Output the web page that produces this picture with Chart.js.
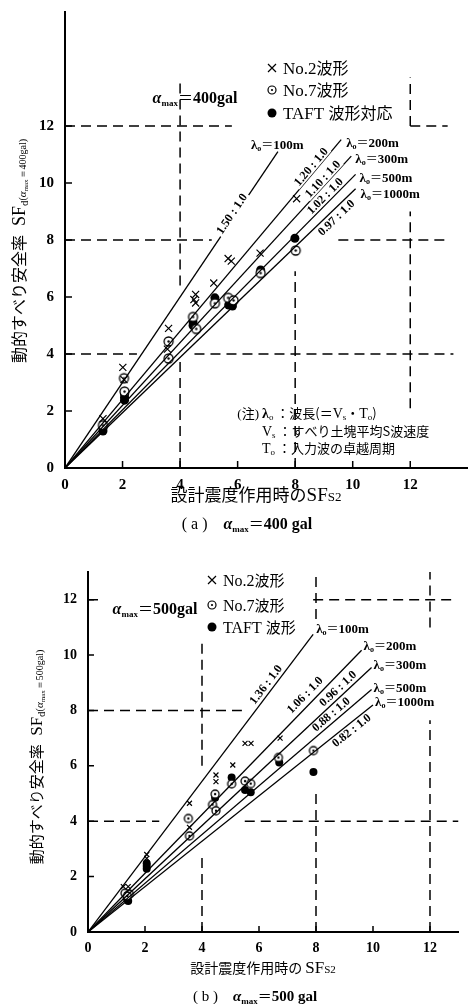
<!DOCTYPE html>
<html>
<head>
<meta charset="utf-8">
<script src="https://cdn.jsdelivr.net/npm/chart.js@4.4.1/dist/chart.umd.min.js"></script>
<style>
  body { margin: 0; background: #fff; width: 474px; height: 1004px; overflow: hidden; position: relative; }
  canvas { position: absolute; left: 0; }
  #chartA { top: 0; }
  #chartB { top: 545px; }
</style>
</head>
<body>
<canvas id="chartA" width="474" height="545"></canvas>
<canvas id="chartB" width="474" height="459"></canvas>
<script>
const SERIF = '"Liberation Serif", "DejaVu Serif", serif';
const JP = '"Noto Sans CJK JP", "Noto Sans CJK SC", sans-serif';

// shared
const tickValues = [0, 2, 4, 6, 8, 10, 12];
const wavelengths = ['100m', '200m', '300m', '500m', '1000m'];

// (a) alpha max = 400 gal
const ratioA = [1.50, 1.20, 1.10, 1.02, 0.97];
const lineEndA = [7.4, 9.6, 9.95, 10.1, 10.1];
const ratioLabelXA = [5.9, 8.7, 9.1, 9.2, 9.25];
const no2A = [[1.32, 1.73], [2.01, 3.53], [2.05, 3.1], [3.6, 4.9], [3.56, 4.17], [4.54, 6.09], [4.48, 5.91],
  [4.54, 5.79], [5.17, 6.49], [5.67, 7.35], [5.78, 7.26], [6.78, 7.54], [8.05, 9.45]];
const no7A = [[1.32, 1.5], [2.05, 3.15], [2.07, 2.68], [3.6, 4.44], [3.6, 3.84], [4.45, 5.3], [4.56, 4.88],
  [5.21, 5.78], [5.67, 5.97], [5.86, 5.88], [6.8, 6.84], [8.02, 7.63]];
const taftA = [[1.32, 1.4], [1.32, 1.3], [2.07, 2.58], [2.07, 2.47], [2.07, 2.38], [4.45, 5.12], [4.45, 5.0],
  [5.21, 5.97], [5.69, 5.72], [5.82, 5.68], [6.8, 6.95], [7.99, 8.06]];
// dashed reference lines [x1, y1, x2, y2]
const guideA = [[0, 12, 5.8, 12], [12, 12, 13.3, 12], [0, 8, 5.1, 8], [9.5, 8, 13.3, 8],
  [0, 4, 2.5, 4], [4.5, 4, 13.5, 4], [4, 0, 4, 3.8], [4, 6.4, 4, 13.6], [8, 0, 8, 6.9],
  [12, 2.1, 12, 9.0], [12, 12, 12, 13.7]];

// (b) alpha max = 500 gal
const ratioB = [1.36, 1.06, 0.96, 0.88, 0.82];
const lineEndB = [7.9, 9.6, 9.95, 9.95, 10.0];
const ratioLabelXB = [6.45, 7.85, 8.95, 8.7, 9.1];
const no2B = [[1.24, 1.64], [1.41, 1.64], [2.06, 2.8], [2.06, 2.66], [3.56, 4.65], [3.56, 3.78], [4.49, 5.67],
  [4.49, 5.43], [5.08, 6.03], [5.51, 6.81], [5.72, 6.81], [6.74, 7.0]];
const no7B = [[1.3, 1.4], [1.45, 1.37], [1.38, 1.3], [3.52, 4.1], [3.56, 3.47], [4.46, 4.98], [4.37, 4.6],
  [4.49, 4.38], [5.04, 5.35], [5.51, 5.45], [5.71, 5.36], [6.68, 6.3], [7.91, 6.55]];
const taftB = [[1.36, 1.22], [1.41, 1.12], [2.06, 2.48], [2.06, 2.38], [2.06, 2.28], [4.46, 4.85], [5.04, 5.58],
  [5.51, 5.13], [5.71, 5.05], [6.71, 6.12], [7.91, 5.78]];
const guideB = [[0, 12, 0.5, 12], [7.9, 12, 12.9, 12], [0, 8, 5.4, 8], [0, 4, 2.5, 4], [5.5, 4, 13, 4],
  [4, 0, 4, 2.8], [4, 6.0, 4, 10.5], [8, 0, 8, 5.0], [8, 11.3, 8, 13.1], [12, 0, 12, 7.65], [12, 11.0, 12, 13.1]];

const toXY = arr => arr.map(p => ({ x: p[0], y: p[1] }));

// circle with a dot in the middle (the ⊙ marker)
function dotCircle(r) {
  const c = document.createElement('canvas');
  const s = Math.ceil(2 * r + 4);
  c.width = c.height = s;
  const g = c.getContext('2d');
  g.fillStyle = '#fff';
  g.strokeStyle = '#000';
  g.lineWidth = 1.3;
  g.beginPath(); g.arc(s / 2, s / 2, r, 0, Math.PI * 2); g.fill(); g.stroke();
  g.fillStyle = '#000';
  g.beginPath(); g.arc(s / 2, s / 2, 1.2, 0, Math.PI * 2); g.fill();
  return c;
}

// draw a run of text pieces [text, font, dy]
function rich(ctx, parts, x, y, align) {
  let w = 0;
  parts.forEach(p => { ctx.font = p[1]; w += ctx.measureText(p[0]).width; });
  let cx = align === 'center' ? x - w / 2 : (align === 'right' ? x - w : x);
  ctx.textAlign = 'left';
  ctx.textBaseline = 'alphabetic';
  parts.forEach(p => {
    ctx.font = p[1];
    ctx.fillText(p[0], cx, y + (p[2] || 0));
    cx += ctx.measureText(p[0]).width;
  });
  return w;
}

function marker(ctx, type, x, y, r) {
  ctx.save();
  ctx.strokeStyle = '#000';
  ctx.fillStyle = '#000';
  ctx.lineWidth = 1.2;
  if (type === 'cross') {
    ctx.beginPath();
    ctx.moveTo(x - r, y - r); ctx.lineTo(x + r, y + r);
    ctx.moveTo(x + r, y - r); ctx.lineTo(x - r, y + r);
    ctx.stroke();
  } else if (type === 'circle') {
    ctx.beginPath(); ctx.arc(x, y, r, 0, Math.PI * 2); ctx.stroke();
    ctx.beginPath(); ctx.arc(x, y, 1.1, 0, Math.PI * 2); ctx.fill();
  } else {
    ctx.beginPath(); ctx.arc(x, y, r + 0.5, 0, Math.PI * 2); ctx.fill();
  }
  ctx.restore();
}

const annotPlugin = {
  id: 'annot',
  afterDatasetsDraw(chart, args, o) {
    const ctx = chart.ctx;
    const xs = chart.scales.x, ys = chart.scales.y;
    ctx.save();
    ctx.fillStyle = '#000';
    ctx.strokeStyle = '#000';

    // inward tick marks
    ctx.lineWidth = 1.5;
    tickValues.slice(1).forEach(v => {
      const px = xs.getPixelForValue(v), py = ys.getPixelForValue(v);
      ctx.beginPath();
      ctx.moveTo(px, ys.bottom); ctx.lineTo(px, ys.bottom - o.tickLen);
      ctx.moveTo(xs.left, py); ctx.lineTo(xs.left + o.tickLen, py);
      ctx.stroke();
    });

    // ratio labels along the lines
    o.ratios.forEach((r, i) => {
      const x0 = xs.getPixelForValue(0), y0 = ys.getPixelForValue(0);
      const x1 = xs.getPixelForValue(o.ends[i]), y1 = ys.getPixelForValue(r * o.ends[i]);
      const ang = Math.atan2(y1 - y0, x1 - x0);
      const lx = o.labelX[i];
      const cx = xs.getPixelForValue(lx), cy = ys.getPixelForValue(r * lx);
      const off = o.labelOff[i];
      const txt = r.toFixed(2) + ' : 1.0';
      ctx.save();
      ctx.translate(cx + off * Math.sin(ang), cy - off * Math.cos(ang));
      ctx.rotate(ang);
      ctx.font = 'bold ' + o.ratioSize + 'px ' + SERIF;
      const w = ctx.measureText(txt).width;
      ctx.fillStyle = '#fff';
      ctx.fillRect(-w / 2 - 2, -o.ratioSize / 2 + 1, w + 4, o.ratioSize - 2);
      ctx.fillStyle = '#000';
      ctx.textAlign = 'center';
      ctx.textBaseline = 'middle';
      ctx.fillText(txt, 0, 0);
      ctx.restore();

      // wavelength label at line end
      const wo = o.waveOff[i];
      rich(ctx, [
        ['λ', 'bold 13px ' + SERIF],
        ['o', 'bold 8px ' + SERIF, 2],
        ['＝', '12px ' + JP],
        [wavelengths[i], 'bold 13px ' + SERIF]
      ], x1 + wo[0], y1 + wo[1] + 4, 'left');
    });

    // legend
    o.legend.forEach(item => {
      marker(ctx, item[0], o.legendX, item[1], o.legendR);
      rich(ctx, item[2], o.legendX + 11, item[1] + 6, 'left');
    });

    // alpha max label
    rich(ctx, o.alpha, o.alphaPos[0], o.alphaPos[1], 'center');

    // axis titles
    rich(ctx, o.xTitle, o.xTitlePos[0], o.xTitlePos[1], 'center');
    ctx.save();
    ctx.translate(o.yTitlePos[0], o.yTitlePos[1]);
    ctx.rotate(-Math.PI / 2);
    rich(ctx, o.yTitle, 0, 0, 'center');
    ctx.restore();

    // caption
    rich(ctx, o.caption, o.captionPos[0], o.captionPos[1], 'center');

    // note
    (o.note || []).forEach(n => rich(ctx, n[0], n[1], n[2], n[3] || 'left'));
    ctx.restore();
  }
};

function makeChart(id, s) {
  const datasets = [];
  s.guides.forEach(g => datasets.push({
    type: 'line', data: [{ x: g[0], y: g[1] }, { x: g[2], y: g[3] }],
    borderColor: '#000', borderWidth: 1.5, borderDash: [10, 6], pointRadius: 0, fill: false
  }));
  s.ratios.forEach((r, i) => datasets.push({
    type: 'line', data: [{ x: 0, y: 0 }, { x: s.ends[i], y: r * s.ends[i] }],
    borderColor: '#000', borderWidth: 1.3, pointRadius: 0, fill: false
  }));
  datasets.push({
    label: 'No.2', data: toXY(s.no2), pointStyle: 'crossRot', pointRadius: s.crossR,
    borderColor: '#000', borderWidth: 1.2
  });
  datasets.push({
    label: 'No.7', data: toXY(s.no7), pointStyle: dotCircle(s.circleR), pointRadius: s.circleR
  });
  datasets.push({
    label: 'TAFT', data: toXY(s.taft), pointStyle: 'circle', pointRadius: s.dotR,
    backgroundColor: '#000', borderColor: '#000', borderWidth: 0
  });

  const tickFont = { family: SERIF, size: s.tickSize, weight: 'bold' };
  return new Chart(document.getElementById(id), {
    type: 'scatter',
    data: { datasets },
    options: {
      responsive: false,
      animation: false,
      layout: { padding: { top: s.padTop, right: s.padRight, left: 0, bottom: 0 } },
      plugins: { legend: { display: false }, tooltip: { enabled: false }, annot: s.annot },
      scales: {
        x: {
          type: 'linear', min: 0, max: s.xMax,
          afterBuildTicks: a => { a.ticks = tickValues.map(v => ({ value: v })); },
          afterFit: sc => { sc.height = s.xAxisH; },
          grid: { display: false },
          border: { display: true, color: '#000', width: 2 },
          ticks: { color: '#000', font: tickFont, padding: 0, maxRotation: 0, autoSkip: false }
        },
        y: {
          type: 'linear', min: 0, max: s.yMax,
          afterBuildTicks: a => { a.ticks = tickValues.map(v => ({ value: v })); },
          afterFit: sc => { sc.width = s.yAxisW; },
          grid: { display: false },
          border: { display: true, color: '#000', width: 2 },
          ticks: { color: '#000', font: tickFont, padding: 3, autoSkip: false }
        }
      }
    },
    plugins: [annotPlugin]
  });
}

function alphaParts(val, big, sub) {
  return [
    ['α', 'italic bold ' + big + 'px ' + SERIF],
    ['max', 'bold ' + sub + 'px ' + SERIF, 3],
    ['＝', (big - 1) + 'px ' + JP],
    [val, 'bold ' + big + 'px ' + SERIF]
  ];
}

function yTitleParts(val, jp, sf) {
  return [
    ['動的すべり安全率', jp + 'px ' + JP],
    ['  SF', sf + 'px ' + SERIF],
    ['d', '11px ' + SERIF, 3],
    ['(', '10px ' + SERIF, 1],
    ['α', 'italic 11px ' + SERIF, 1],
    ['max', '7px ' + SERIF, 3],
    ['＝' + val + ')', '10px ' + SERIF, 1]
  ];
}

makeChart('chartA', {
  guides: guideA, ratios: ratioA, ends: lineEndA, no2: no2A, no7: no7A, taft: taftA,
  crossR: 5, circleR: 4.5, dotR: 4.5, tickSize: 15,
  xMax: 14, yMax: 16, padTop: 9, padRight: 3, xAxisH: 77, yAxisW: 65,
  annot: {
    tickLen: 7, ratios: ratioA, ends: lineEndA, labelX: ratioLabelXA, labelOff: [3, 5, 5, 6, -8],
    ratioSize: 12,
    waveOff: [[-27, -7], [5, 3], [4, 3], [4, 4], [5, 5]],
    legendX: 272, legendR: 4,
    legend: [
      ['cross', 68, [['No.2', '17px ' + SERIF], ['波形', '16px ' + JP]]],
      ['circle', 90, [['No.7', '17px ' + SERIF], ['波形', '16px ' + JP]]],
      ['dot', 113, [['TAFT ', '17px ' + SERIF], ['波形対応', '16px ' + JP]]]
    ],
    alpha: alphaParts('400gal', 16, 9), alphaPos: [195, 103],
    xTitle: [['設計震度作用時の', '17px ' + JP], ['SF', '19px ' + SERIF], ['S2', '13px ' + SERIF]],
    xTitlePos: [256, 501],
    yTitle: yTitleParts('400gal', 16, 18), yTitlePos: [25, 251],
    caption: [['( a )', '16px ' + SERIF], ['    ', '16px ' + SERIF]].concat(alphaParts('400 gal', 16, 9)),
    captionPos: [247, 529],
    note: [
      [[['(', '13px ' + SERIF], ['注', '13px ' + JP], [')', '13px ' + SERIF]], 259, 418, 'right'],
      [[['λ', 'bold 14px ' + SERIF], ['o', '9px ' + SERIF, 2], [' ：', '13px ' + JP], ['波長(＝', '13px ' + JP],
        ['V', '14px ' + SERIF], ['s', '9px ' + SERIF, 2], ['・', '13px ' + JP], ['T', '14px ' + SERIF],
        ['o', '9px ' + SERIF, 2], [')', '13px ' + JP]], 262, 418],
      [[['V', '14px ' + SERIF], ['s', '9px ' + SERIF, 2], [' ：', '13px ' + JP], ['すべり土塊平均S波速度', '13px ' + JP]], 262, 436],
      [[['T', '14px ' + SERIF], ['o', '9px ' + SERIF, 2], [' ：', '13px ' + JP], ['入力波の卓越周期', '13px ' + JP]], 262, 453]
    ]
  }
});

makeChart('chartB', {
  guides: guideB, ratios: ratioB, ends: lineEndB, no2: no2B, no7: no7B, taft: taftB,
  crossR: 3.5, circleR: 4, dotR: 4, tickSize: 14,
  xMax: 13, yMax: 13, padTop: 27, padRight: 15.5, xAxisH: 72, yAxisW: 88,
  annot: {
    tickLen: 6, ratios: ratioB, ends: lineEndB, labelX: ratioLabelXB, labelOff: [7, 9, 7, 7, -7],
    ratioSize: 12,
    waveOff: [[3, -5], [2, -4], [2, -2], [2, -2], [2, -3]],
    legendX: 212, legendR: 4,
    legend: [
      ['cross', 35, [['No.2', '16px ' + SERIF], ['波形', '15px ' + JP]]],
      ['circle', 60, [['No.7', '16px ' + SERIF], ['波形', '15px ' + JP]]],
      ['dot', 82, [['TAFT ', '16px ' + SERIF], ['波形', '15px ' + JP]]]
    ],
    alpha: alphaParts('500gal', 16, 9), alphaPos: [155, 69],
    xTitle: [['設計震度作用時の ', '14px ' + JP], ['SF', '17px ' + SERIF], ['S2', '11px ' + SERIF]],
    xTitlePos: [263, 428],
    yTitle: yTitleParts('500gal', 15, 17), yTitlePos: [42, 212],
    caption: [['( b )', '15px ' + SERIF], ['    ', '15px ' + SERIF]].concat(alphaParts('500 gal', 15, 9)),
    captionPos: [255, 456]
  }
});
</script>
</body>
</html>
